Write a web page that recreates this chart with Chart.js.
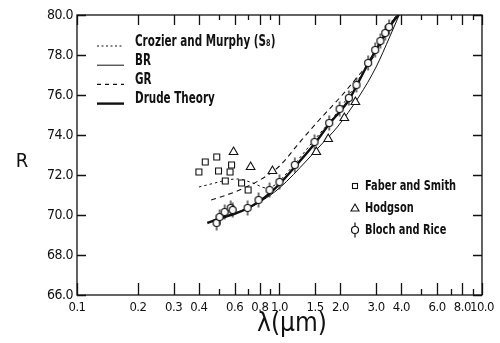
<!DOCTYPE html>
<html><head><meta charset="utf-8">
<script src="https://cdn.jsdelivr.net/npm/chart.js@4.4.1/dist/chart.umd.min.js"></script>
<style>html,body{margin:0;padding:0;background:#fff;}#wrap{width:500px;height:343px;position:relative;}</style>
</head><body><div id="wrap"><canvas id="c"></canvas></div>
<script>
// ---- tick definitions ----
const xTicks = [0.1,0.2,0.3,0.4,0.5,0.6,0.7,0.8,0.9,1.0,1.5,2,3,4,5,6,7,8,9,10];
const xTickLabels = ['0.1','0.2','0.3','0.4','','0.6','','0.8','','1.0','1.5','2.0','3.0','4.0','','6.0','','8.0','','10.0'];
const xMinorTicks = [0.5,0.7,0.9,5,7,9];
const yTicks = [66,68,70,72,74,76,78,80];
const yTickLabels = ['66.0','68.0','70.0','72.0','74.0','76.0','78.0','80.0'];

// ---- measured data ----
const faberX = [0.40,0.43,0.49,0.50,0.54,0.57,0.58,0.65,0.70];
const faberR = [72.15,72.65,72.9,72.2,71.7,72.15,72.5,71.6,71.25];

const hodgsonX = [0.593,0.72,0.923,1.52,1.74,2.09,2.37];
const hodgsonR = [73.15,72.4,72.2,73.15,73.8,74.85,75.65];

const blochX = [0.489,0.506,0.536,0.574,0.587,0.696,0.788,0.893,1.0,1.19,1.49,1.76,1.98,2.2,2.4,2.74,2.97,3.15,3.33,3.48];
const blochR = [69.6,69.9,70.15,70.35,70.25,70.35,70.75,71.25,71.65,72.5,73.65,74.6,75.3,75.85,76.5,77.6,78.25,78.7,79.1,79.4];

// ---- theory curves ----
const cmX = [0.40,0.48,0.55,0.62,0.74,0.86,0.95,1.0,1.5,2.0,2.5,3.0,3.5,3.8];
const cmR = [71.4,71.6,71.75,71.8,71.6,71.35,71.5,71.7,73.8,75.35,76.9,78.35,79.55,80.0];

const brX = [0.5,0.6,0.7,0.8,1.0,1.37,1.6,1.93,2.48,3.0,3.5,3.9];
const brR = [69.85,70.1,70.35,70.65,71.35,72.75,73.5,74.4,75.95,77.4,78.9,80.0];

const grX = [0.46,0.6,0.8,1.0,1.25,1.57,2.0,2.4,3.0,3.5,3.77];
const grR = [70.75,71.15,71.75,72.45,73.6,74.75,75.9,76.85,78.1,79.4,80.0];

const drudeX = [0.44,0.5,0.6,0.7,0.8,0.9,1.0,1.2,1.5,1.76,2.2,2.4,2.75,3.0,3.3,3.6,3.88];
const drudeR = [69.6,69.8,70.05,70.35,70.7,71.1,71.55,72.45,73.6,74.55,75.75,76.45,77.6,78.25,79.0,79.6,80.0];

const pts = (xs, ys) => xs.map((v, i) => ({x: v, y: ys[i]}));
const INK = '#111';

// pick the narrowest installed sans font
function pickFont() {
  const c = document.createElement('canvas').getContext('2d');
  const sample = 'Crozier and Murphy 0123456789';
  const cands = ['Liberation Sans Narrow', 'DejaVu Sans Condensed', 'Roboto Condensed', 'Open Sans Condensed', 'Liberation Sans'];
  const base = {};
  ['monospace', 'serif'].forEach(f => { c.font = '40px ' + f; base[f] = c.measureText(sample).width; });
  for (const name of cands) {
    let found = false;
    ['monospace', 'serif'].forEach(f => {
      c.font = '40px "' + name + '",' + f;
      if (Math.abs(c.measureText(sample).width - base[f]) > 0.5) found = true;
    });
    if (found) return '"' + name + '",sans-serif';
  }
  return 'sans-serif';
}
const FONT = pickFont();

// circle with vertical error bar glyph
function errGlyph() {
  const c = document.createElement('canvas');
  c.width = 10; c.height = 16;
  const g = c.getContext('2d');
  g.strokeStyle = INK; g.lineWidth = 1.2;
  g.beginPath(); g.moveTo(5, 0.5); g.lineTo(5, 4.5); g.moveTo(5, 11.5); g.lineTo(5, 15.5); g.stroke();
  g.fillStyle = '#fff';
  g.beginPath(); g.arc(5, 8, 3.5, 0, Math.PI * 2); g.fill(); g.stroke();
  return c;
}
const glyph = errGlyph();

const spacingPlugin = {
  id: 'spacing',
  beforeDraw(chart) { if ('letterSpacing' in chart.ctx) chart.ctx.letterSpacing = '-0.5px'; }
};

function narrowText(ctx, txt, x, y, sx) {
  ctx.save(); ctx.translate(x, y); ctx.scale(sx, 1); ctx.fillText(txt, 0, 0); ctx.restore();
}

const framePlugin = {
  id: 'frame',
  afterDraw(chart) {
    const {ctx, chartArea: a, scales: {x, y}} = chart;
    ctx.save();
    if ('letterSpacing' in ctx) ctx.letterSpacing = '0px';
    ctx.strokeStyle = INK; ctx.lineWidth = 1.3;
    ctx.strokeRect(a.left, a.top, a.right - a.left, a.bottom - a.top);
    ctx.beginPath();
    xTicks.forEach(v => {
      const px = Math.round(x.getPixelForValue(v)) + 0.5;
      const minor = xMinorTicks.includes(v);
      ctx.moveTo(px, a.bottom); ctx.lineTo(px, a.bottom - (minor ? 6 : 12));
      ctx.moveTo(px, a.top); ctx.lineTo(px, a.top + (minor ? 5 : 10));
    });
    yTicks.forEach(v => {
      const py = Math.round(y.getPixelForValue(v)) + 0.5;
      ctx.moveTo(a.left, py); ctx.lineTo(a.left + 9, py);
      ctx.moveTo(a.right, py); ctx.lineTo(a.right - 9, py);
    });
    ctx.stroke();

    // axis titles (upright R, as in the original)
    ctx.fillStyle = INK;
    ctx.textAlign = 'center'; ctx.textBaseline = 'middle';
    ctx.font = '20px ' + FONT;
    ctx.fillText('R', 22, 162);
    ctx.font = '26px ' + FONT;
    ctx.fillText('λ(μm)', 292, 324);

    // left legend (lines)
    const ds = chart.data.datasets;
    const leftRows = [3, 4, 5, 6];
    ctx.font = 'bold 15px ' + FONT;
    ctx.textAlign = 'left';
    leftRows.forEach((di, k) => {
      const d = ds[di];
      const yy = 42 + k * 19.2;
      ctx.save();
      ctx.strokeStyle = INK;
      ctx.lineWidth = d.borderWidth;
      ctx.setLineDash(d.legendDash || []);
      ctx.beginPath(); ctx.moveTo(97, yy + 4); ctx.lineTo(124, yy + 4); ctx.stroke();
      ctx.restore();
      narrowText(ctx, d.label, 135, yy, 0.77);
    });
    // right legend (markers)
    const rightRows = [0, 1, 2];
    ctx.font = 'bold 14px ' + FONT;
    rightRows.forEach((di, k) => {
      const yy = 186 + k * 22;
      const mx = 355;
      ctx.save(); ctx.strokeStyle = INK; ctx.lineWidth = 1.1;
      if (di === 0) { ctx.strokeRect(mx - 2.5, yy - 2.5, 5, 5); }
      else if (di === 1) { ctx.beginPath(); ctx.moveTo(mx, yy - 4); ctx.lineTo(mx + 4, yy + 3); ctx.lineTo(mx - 4, yy + 3); ctx.closePath(); ctx.stroke(); }
      else { ctx.drawImage(glyph, mx - 5, yy - 8); }
      ctx.restore();
      narrowText(ctx, ds[di].label, 365, yy, 0.78);
    });
    ctx.restore();
  }
};

new Chart(document.getElementById('c'), {
  type: 'scatter',
  data: {
    datasets: [
      {label: 'Faber and Smith', data: pts(faberX, faberR), pointStyle: 'rect', pointRadius: 4.2,
       borderColor: INK, backgroundColor: '#fff', borderWidth: 1.1, showLine: false},
      {label: 'Hodgson', data: pts(hodgsonX, hodgsonR), pointStyle: 'triangle', pointRadius: 5,
       borderColor: INK, backgroundColor: '#fff', borderWidth: 1.1, showLine: false},
      {label: 'Bloch and Rice', data: pts(blochX, blochR), pointStyle: glyph, pointRadius: 5,
       borderColor: INK, backgroundColor: '#fff', showLine: false},
      {label: 'Crozier and Murphy (S₈)', data: pts(cmX, cmR), showLine: true, pointRadius: 0,
       borderColor: INK, borderWidth: 1, borderDash: [2.5, 3], legendDash: [2, 2.5], cubicInterpolationMode: 'monotone'},
      {label: 'BR', data: pts(brX, brR), showLine: true, pointRadius: 0,
       borderColor: INK, borderWidth: 1, cubicInterpolationMode: 'monotone'},
      {label: 'GR', data: pts(grX, grR), showLine: true, pointRadius: 0,
       borderColor: INK, borderWidth: 1.1, borderDash: [5, 4], legendDash: [4, 4], cubicInterpolationMode: 'monotone'},
      {label: 'Drude Theory', data: pts(drudeX, drudeR), showLine: true, pointRadius: 0,
       borderColor: INK, borderWidth: 2.4, cubicInterpolationMode: 'monotone'}
    ]
  },
  options: {
    responsive: true, maintainAspectRatio: false, animation: false,
    layout: {padding: {left: 0, right: 17, top: 15, bottom: 0}},
    plugins: {legend: {display: false}, tooltip: {enabled: false}},
    scales: {
      x: {
        type: 'logarithmic', min: 0.1, max: 10,
        grid: {display: false, drawTicks: false}, border: {display: false},
        afterBuildTicks: s => { s.ticks = xTicks.map(v => ({value: v})); },
        afterFit: s => { s.height = 48; },
        ticks: {autoSkip: false, maxRotation: 0, padding: 5, color: INK,
          font: {family: FONT, size: 13},
          callback: (v, i) => xTickLabels[i]}
      },
      y: {
        min: 66, max: 80,
        grid: {display: false, drawTicks: false}, border: {display: false},
        afterBuildTicks: s => { s.ticks = yTicks.map(v => ({value: v})); },
        afterFit: s => { s.width = 77; },
        ticks: {padding: 4, color: INK, font: {family: FONT, size: 14},
          callback: (v, i) => yTickLabels[i]}
      }
    }
  },
  plugins: [spacingPlugin, framePlugin]
});
</script></body></html>
